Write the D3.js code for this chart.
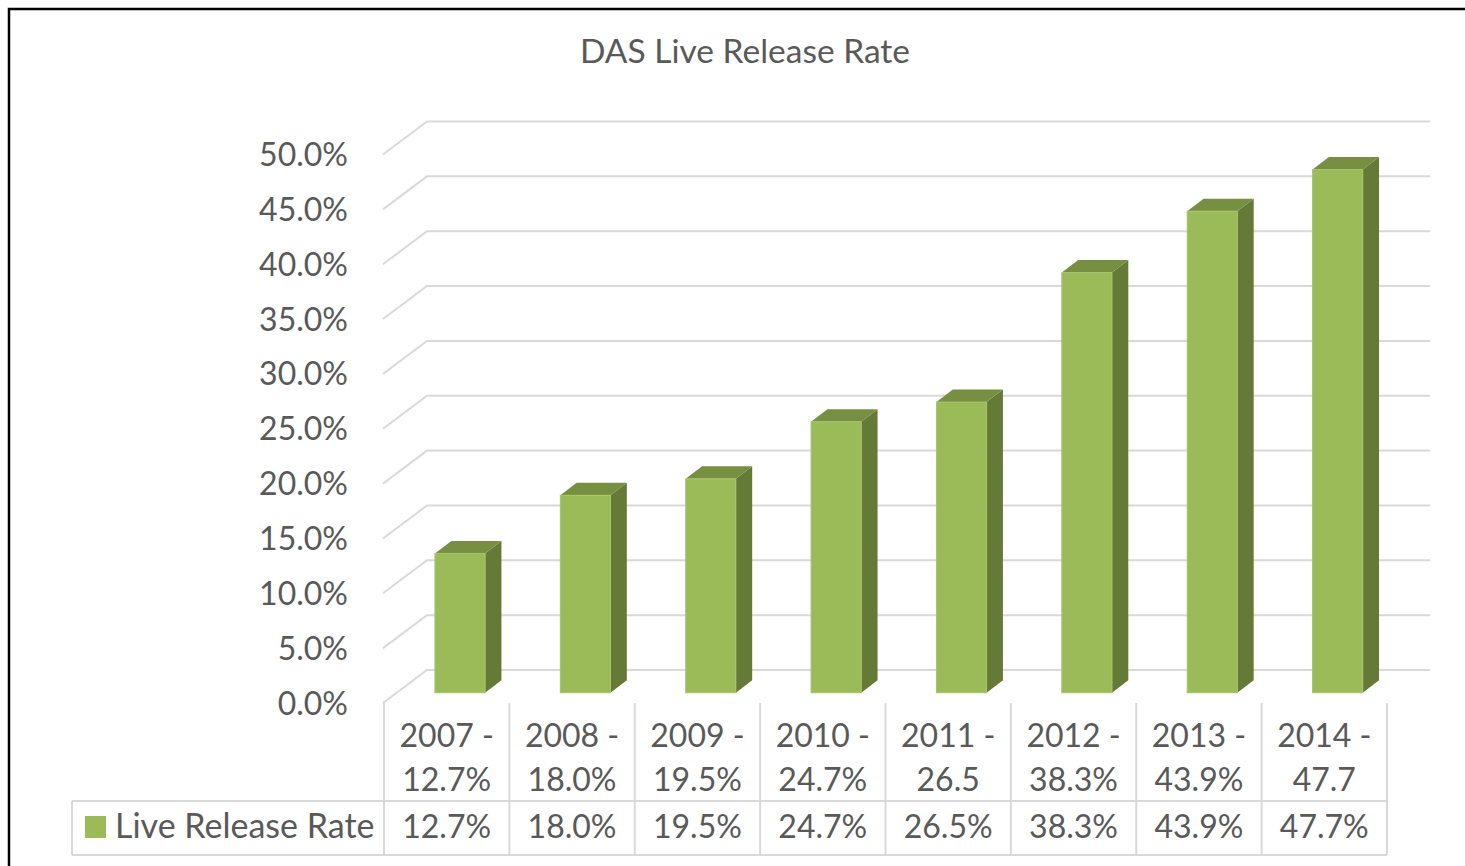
<!DOCTYPE html>
<html>
<head>
<meta charset="utf-8">
<script src="https://cdn.jsdelivr.net/npm/d3@7"></script>
<style>
    body { margin: 0; background: #ffffff; }
    svg text { font-family: Lato, "Open Sans", sans-serif; fill: #595959; }
</style>
</head>
<body>
<svg id="chart" width="1465" height="866"></svg>
<script>
// Data
const years = ["2007", "2008", "2009", "2010", "2011", "2012", "2013", "2014"];
const categoryLines2 = ["12.7%", "18.0%", "19.5%", "24.7%", "26.5", "38.3%", "43.9%", "47.7"];
const liveReleaseRate = [12.7, 18.0, 19.5, 24.7, 26.5, 38.3, 43.9, 47.7];
const yTicks = [0, 5, 10, 15, 20, 25, 30, 35, 40, 45, 50];
const seriesName = "Live Release Rate";
const chartTitle = "DAS Live Release Rate";

const svg = d3.select("#chart");

// Floor front edge and 3D depth vector
const floorY = 703;
const depth = { dx: 43, dy: -33 };
const barDepth = [0.31, 0.69]; // bars sit in middle of depth

const x = d3.scaleBand()
            .domain(years)
            .range([384, 1387])
            .paddingInner(0)
            .paddingOuter(0);

const y = d3.scaleLinear()
            .domain([0, 50])
            .range([0, 548.5]);

const gridColor = "#d9d9d9";

// Outer frame (only top and left visible)
svg.append("path")
   .attr("d", "M9,866 L9,9 L1465,9")
   .attr("fill", "none")
   .attr("stroke", "#000")
   .attr("stroke-width", 2.5);

// Title
svg.append("text")
   .attr("x", 745)
   .attr("y", 63)
   .attr("text-anchor", "middle")
   .attr("font-size", "33.5px")
   .text(chartTitle);

// Gridlines: diagonal on the side wall, then across the back wall
svg.append("g")
   .selectAll("path")
   .data(yTicks)
   .enter()
   .append("path")
   .attr("fill", "none")
   .attr("stroke", gridColor)
   .attr("stroke-width", 2)
   .attr("d", d => {
       const yf = floorY - y(d);
       return `M${x.range()[0] - 1},${yf} L${x.range()[0] + depth.dx},${yf + depth.dy} L${x.range()[1] + depth.dx},${yf + depth.dy}`;
   });

// Y-axis labels
svg.append("g")
   .selectAll("text")
   .data(yTicks)
   .enter()
   .append("text")
   .attr("x", 348)
   .attr("y", d => floorY - y(d))
   .attr("dy", "0.36em")
   .attr("text-anchor", "end")
   .attr("font-size", "32px")
   .text(d => d.toFixed(1) + "%");

// Bars as 3D boxes
const barW = x.bandwidth() * 0.4;
const bars = svg.append("g")
                .selectAll("g")
                .data(liveReleaseRate.map((v, i) => ({ year: years[i], value: v })))
                .enter()
                .append("g");

function frontBox(d) {
    const cx = x(d.year) + x.bandwidth() / 2;
    const fx = cx - barW / 2 + depth.dx * barDepth[0];
    const fy = floorY + depth.dy * barDepth[0];
    const h = y(d.value);
    const ddx = depth.dx * (barDepth[1] - barDepth[0]);
    const ddy = depth.dy * (barDepth[1] - barDepth[0]);
    return { fx, fy, h, ddx, ddy };
}

// side face
bars.append("path")
    .attr("fill", "#657a36")
    .attr("d", d => {
        const b = frontBox(d);
        const r = b.fx + barW;
        return `M${r},${b.fy} L${r + b.ddx},${b.fy + b.ddy} L${r + b.ddx},${b.fy - b.h + b.ddy} L${r},${b.fy - b.h} Z`;
    });

// top face
bars.append("path")
    .attr("fill", "#778f41")
    .attr("d", d => {
        const b = frontBox(d);
        const t = b.fy - b.h;
        return `M${b.fx},${t} L${b.fx + b.ddx},${t + b.ddy} L${b.fx + barW + b.ddx},${t + b.ddy} L${b.fx + barW},${t} Z`;
    });

// front face
bars.append("rect")
    .attr("fill", "#9bbb59")
    .attr("stroke", "#a8c46c")
    .attr("stroke-width", 1)
    .attr("x", d => frontBox(d).fx)
    .attr("y", d => frontBox(d).fy - frontBox(d).h)
    .attr("width", barW)
    .attr("height", d => frontBox(d).h);

// Data table
const tableTop = floorY;
const rowY = 801;
const tableBottom = 855;
const tableLeft = 72;
const table = svg.append("g");

// column separators
table.selectAll("line.col")
     .data(d3.range(years.length + 1))
     .enter()
     .append("line")
     .attr("x1", i => x.range()[0] + i * x.bandwidth())
     .attr("x2", i => x.range()[0] + i * x.bandwidth())
     .attr("y1", tableTop)
     .attr("y2", tableBottom)
     .attr("stroke", gridColor)
     .attr("stroke-width", 2);

[rowY, tableBottom].forEach(yy => {
    table.append("line")
         .attr("x1", tableLeft)
         .attr("x2", x.range()[1])
         .attr("y1", yy)
         .attr("y2", yy)
         .attr("stroke", gridColor)
         .attr("stroke-width", 2);
});

table.append("line")
     .attr("x1", tableLeft)
     .attr("x2", tableLeft)
     .attr("y1", rowY)
     .attr("y2", tableBottom)
     .attr("stroke", gridColor)
     .attr("stroke-width", 2);

// category labels (two lines)
const catCx = d => x(d) + x.bandwidth() / 2;
table.selectAll("text.cat1")
     .data(years)
     .enter()
     .append("text")
     .attr("x", catCx)
     .attr("y", 747)
     .attr("text-anchor", "middle")
     .attr("font-size", "32px")
     .text(d => d + " -");

table.selectAll("text.cat2")
     .data(years)
     .enter()
     .append("text")
     .attr("x", catCx)
     .attr("y", 791)
     .attr("text-anchor", "middle")
     .attr("font-size", "32px")
     .text((d, i) => categoryLines2[i]);

// values row
table.selectAll("text.val")
     .data(liveReleaseRate)
     .enter()
     .append("text")
     .attr("x", (d, i) => catCx(years[i]))
     .attr("y", 838)
     .attr("text-anchor", "middle")
     .attr("font-size", "32px")
     .text(d => d.toFixed(1) + "%");

// legend key in table
table.append("rect")
     .attr("x", 85)
     .attr("y", 816)
     .attr("width", 21)
     .attr("height", 22)
     .attr("fill", "#9bbb59");

table.append("text")
     .attr("x", 115)
     .attr("y", 838)
     .attr("font-size", "34px")
     .text(seriesName);
</script>
</body>
</html>
